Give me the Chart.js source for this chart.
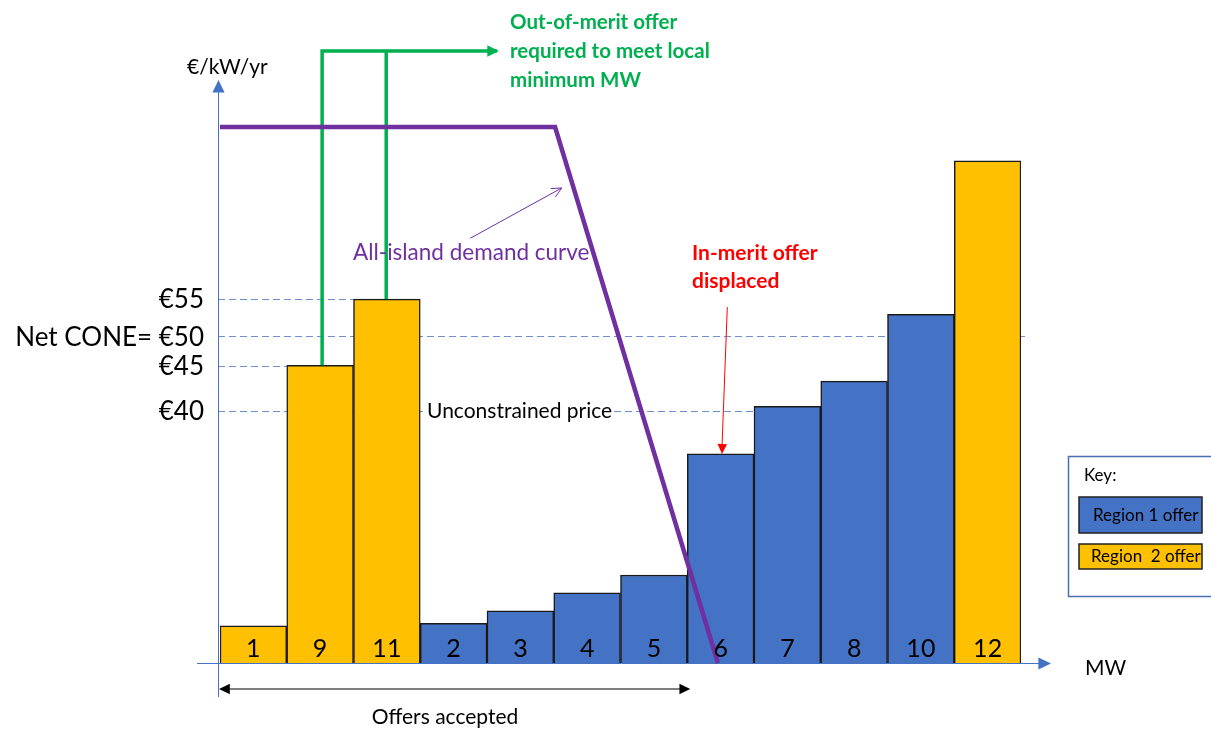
<!DOCTYPE html>
<html>
<head>
<meta charset="utf-8">
<script src="https://cdn.jsdelivr.net/npm/chart.js@4/dist/chart.umd.min.js"></script>
<style>
  html, body { margin: 0; padding: 0; background: #fff; }
  #wrap { width: 1211px; height: 729px; }
</style>
</head>
<body>
<div id="wrap"><canvas id="offers"></canvas></div>
<script>
// offers in merit order along the MW axis (one unit of MW each)
const offerLabels = ['1', '9', '11', '2', '3', '4', '5', '6', '7', '8', '10', '12'];
const offerPrices = [5.6, 45, 55, 6.0, 7.9, 10.6, 13.3, 31.6, 38.8, 42.6, 52.7, 75.9];
const offerRegion = [2, 2, 2, 1, 1, 1, 1, 1, 1, 1, 1, 2];

// all-island demand curve
const demandX = [0, 5.02, 7.46];
const demandY = [81, 81, 0];

// out-of-merit connectors (offer 9 and offer 11)
const oomX1 = [1.53, 1.53, 4.15];
const oomY1 = [45, 92.5, 92.5];
const oomX2 = [2.49, 2.49];
const oomY2 = [55, 92.5];

// price reference levels on the y axis
const priceLabels = ['€40', '€45', 'Net CONE= €50', '€55'];
const priceLevels = [38.1, 44.9, 49.4, 55];
const priceLineEnd = [8.0, 1.0, 12.06, 2.0];

const YELLOW = '#FFC000';
const BLUE = '#4472C4';
const PURPLE = '#7030A0';
const GREEN = '#00B050';
const FONT = 'Lato, "Open Sans", sans-serif';

const toPts = (xs, ys) => xs.map((x, i) => ({ x: x, y: ys[i] }));

function arrowHead(ctx, x0, y0, x1, y1, size, filled) {
  const a = Math.atan2(y1 - y0, x1 - x0);
  ctx.beginPath();
  ctx.moveTo(x1 - size * Math.cos(a - 0.45), y1 - size * Math.sin(a - 0.45));
  ctx.lineTo(x1, y1);
  ctx.lineTo(x1 - size * Math.cos(a + 0.45), y1 - size * Math.sin(a + 0.45));
  if (filled) { ctx.closePath(); ctx.fill(); } else { ctx.stroke(); }
}

const decor = {
  id: 'decor',
  beforeDatasetsDraw(chart) {
    const ctx = chart.ctx;
    const x = chart.scales.x, y = chart.scales.y;
    const x0 = x.getPixelForValue(0), y0 = y.getPixelForValue(0);
    ctx.save();
    // dashed price levels
    ctx.strokeStyle = '#6f8fd0';
    ctx.lineWidth = 1;
    ctx.setLineDash([7, 4]);
    priceLevels.forEach((v, i) => {
      const py = Math.round(y.getPixelForValue(v)) + 0.5;
      ctx.beginPath();
      ctx.moveTo(x0 - 2, py);
      ctx.lineTo(x.getPixelForValue(priceLineEnd[i]), py);
      ctx.stroke();
    });
    ctx.setLineDash([]);
    // axes
    ctx.strokeStyle = BLUE;
    ctx.fillStyle = BLUE;
    ctx.lineWidth = 1;
    ctx.beginPath();
    ctx.moveTo(x0 - 1.5, 697);
    ctx.lineTo(x0 - 1.5, 84);
    ctx.stroke();
    arrowHead(ctx, x0 - 1.5, 120, x0 - 1.5, 80, 14, true);
    ctx.beginPath();
    ctx.moveTo(197, y0 + 0.5);
    ctx.lineTo(1046, y0 + 0.5);
    ctx.stroke();
    arrowHead(ctx, 1000, y0 + 0.5, 1051, y0 + 0.5, 14, true);
    ctx.restore();
  },
  afterDatasetsDraw(chart) {
    const ctx = chart.ctx;
    const x = chart.scales.x, y = chart.scales.y;
    const x0 = x.getPixelForValue(0), y0 = y.getPixelForValue(0);
    ctx.save();

    // offer numbers inside the bars
    ctx.fillStyle = '#000';
    ctx.font = '25px ' + FONT;
    ctx.textAlign = 'center';
    ctx.textBaseline = 'alphabetic';
    offerLabels.forEach((t, i) => {
      ctx.fillText(t, x.getPixelForValue(i + 0.5), y0 - 6);
    });

    // green arrow head
    ctx.fillStyle = GREEN;
    const gy = y.getPixelForValue(oomY1[2]);
    arrowHead(ctx, 0, gy, x.getPixelForValue(oomX1[2]) + 2, gy, 13, true);

    // y tick labels
    ctx.fillStyle = '#000';
    ctx.font = '26px ' + FONT;
    ctx.textAlign = 'right';
    ctx.textBaseline = 'middle';
    priceLabels.forEach((t, i) => {
      ctx.fillText(t, 204, y.getPixelForValue(priceLevels[i]) + 1);
    });

    // axis titles
    ctx.textAlign = 'left';
    ctx.font = '21px ' + FONT;
    ctx.fillText('€/kW/yr', 187, 67);
    ctx.fillText('MW', 1085, 668);

    // unconstrained price label
    ctx.font = '21px ' + FONT;
    const up = 'Unconstrained price';
    const upx = 427, upy = y.getPixelForValue(priceLevels[0]);
    ctx.fillStyle = '#fff';
    ctx.fillRect(upx - 1, upy - 10, ctx.measureText(up).width + 2, 20);
    ctx.fillStyle = '#000';
    ctx.fillText(up, upx, upy);

    // offers accepted span
    ctx.strokeStyle = '#000';
    ctx.fillStyle = '#000';
    ctx.lineWidth = 1.2;
    const ay = 689, ax1 = x.getPixelForValue(7.03);
    ctx.beginPath();
    ctx.moveTo(x0 + 4, ay);
    ctx.lineTo(ax1 - 4, ay);
    ctx.stroke();
    arrowHead(ctx, ax1, ay, x0 - 1, ay, 12, true);
    arrowHead(ctx, x0, ay, ax1 + 1, ay, 12, true);
    ctx.font = '21px ' + FONT;
    ctx.textAlign = 'center';
    ctx.fillText('Offers accepted', 445, 717);

    // demand curve callout
    ctx.strokeStyle = PURPLE;
    ctx.lineWidth = 1;
    const px0 = x.getPixelForValue(3.75), py0 = y.getPixelForValue(64.2);
    const px1 = x.getPixelForValue(5.12), py1 = y.getPixelForValue(71.8);
    ctx.beginPath();
    ctx.moveTo(px0, py0);
    ctx.lineTo(px1, py1);
    ctx.stroke();
    arrowHead(ctx, px0, py0, px1, py1, 11, false);
    ctx.fillStyle = PURPLE;
    ctx.font = '22.5px ' + FONT;
    ctx.textAlign = 'left';
    ctx.fillText('All-island demand curve', 353, 253);

    // in-merit displaced callout
    ctx.strokeStyle = '#FF0000';
    ctx.fillStyle = '#FF0000';
    const rx0 = x.getPixelForValue(7.6), ry0 = y.getPixelForValue(53.8);
    const rx1 = x.getPixelForValue(7.52), ry1 = y.getPixelForValue(offerPrices[7]);
    ctx.beginPath();
    ctx.moveTo(rx0, ry0);
    ctx.lineTo(rx1, ry1 - 6);
    ctx.stroke();
    arrowHead(ctx, rx0, ry0, rx1, ry1, 11, true);
    ctx.font = 'bold 21px ' + FONT;
    ctx.fillText('In-merit offer', 692, 253);
    ctx.fillText('displaced', 692, 281);

    // out-of-merit note
    ctx.fillStyle = GREEN;
    ctx.font = 'bold 20.5px ' + FONT;
    ctx.fillText('Out-of-merit offer', 510, 22);
    ctx.fillText('required to meet local', 510, 51);
    ctx.fillText('minimum MW', 510, 80);

    // key box
    ctx.strokeStyle = '#4a6fb5';
    ctx.lineWidth = 1.5;
    ctx.strokeRect(1068.5, 456.5, 160, 140);
    ctx.fillStyle = '#000';
    ctx.font = '17px ' + FONT;
    ctx.fillText('Key:', 1084, 476);
    ctx.lineWidth = 1.5;
    ctx.strokeStyle = '#222';
    ctx.fillStyle = BLUE;
    ctx.fillRect(1079, 497, 123, 36);
    ctx.strokeRect(1079, 497, 123, 36);
    ctx.fillStyle = YELLOW;
    ctx.fillRect(1079, 544, 123, 25);
    ctx.strokeRect(1079, 544, 123, 25);
    ctx.save();
    ctx.beginPath();
    ctx.rect(1079, 490, 123, 90);
    ctx.clip();
    ctx.fillStyle = '#000';
    ctx.fillText('Region 1 offer', 1093, 516);
    ctx.fillText('Region  2 offer', 1091, 557);
    ctx.restore();

    ctx.restore();
  }
};

new Chart(document.getElementById('offers'), {
  type: 'bar',
  data: {
    datasets: [
      {
        type: 'line',
        data: toPts(demandX, demandY),
        borderColor: PURPLE,
        borderWidth: 4.5,
        pointRadius: 0,
        tension: 0,
        clip: false,
        order: 0
      },
      {
        type: 'line',
        data: toPts(oomX1, oomY1),
        borderColor: GREEN,
        borderWidth: 3.5,
        borderJoinStyle: 'miter',
        pointRadius: 0,
        tension: 0,
        clip: false,
        order: 1
      },
      {
        type: 'line',
        data: toPts(oomX2, oomY2),
        borderColor: GREEN,
        borderWidth: 3.5,
        pointRadius: 0,
        tension: 0,
        clip: false,
        order: 1
      },
      {
        type: 'bar',
        data: offerPrices.map((v, i) => ({ x: i + 0.5, y: v })),
        backgroundColor: offerRegion.map(r => r === 1 ? BLUE : YELLOW),
        borderColor: '#1a1a1a',
        borderWidth: 1.5,
        barPercentage: 1,
        categoryPercentage: 1,
        order: 5
      }
    ]
  },
  options: {
    responsive: true,
    maintainAspectRatio: false,
    animation: false,
    layout: { padding: { left: 220, right: 190, top: 51, bottom: 66 } },
    plugins: {
      legend: { display: false },
      tooltip: { enabled: false }
    },
    scales: {
      x: { type: 'linear', min: 0, max: 12, offset: false, display: false },
      y: { min: 0, max: 92.5, display: false }
    }
  },
  plugins: [decor]
});
</script>
</body>
</html>
